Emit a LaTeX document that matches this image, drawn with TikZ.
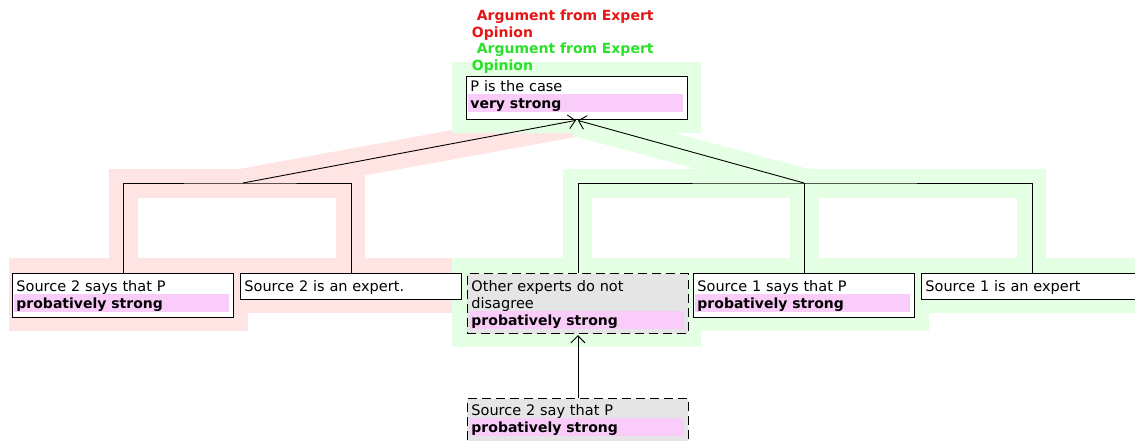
\documentclass[tikz,border=0pt]{standalone}
\usepackage{fontspec}
\setmainfont{DejaVu Sans}
\usepackage{xcolor}
\usetikzlibrary{arrows.meta, positioning, calc}

\definecolor{argred}{RGB}{230,20,20}
\definecolor{arggreen}{RGB}{40,225,40}
\definecolor{hlred}{RGB}{255,228,228}
\definecolor{hlgreen}{RGB}{228,255,228}
\definecolor{strengthpink}{RGB}{250,204,250}
\definecolor{assumegray}{RGB}{229,229,229}

\newcommand{\claimfont}{\fontsize{14.5}{17}\selectfont\lineskiplimit=-20pt}
\newcommand{\schemefont}{\fontsize{14}{17}\selectfont\bfseries\lineskiplimit=-20pt}
\newcommand{\strengthbar}[1]{\hspace*{-2.3pt}{\setlength{\fboxsep}{0pt}%
  \colorbox{strengthpink}{\makebox[\dimexpr\linewidth+1.5pt\relax][l]{%
  \rule[-3.4pt]{0pt}{17.6pt}\hspace{2.3pt}\fontsize{14}{17}\selectfont\bfseries #1}}}}

\begin{document}
\begin{tikzpicture}[x=1pt, y=-1pt,
  claim/.style={draw, line width=0.9pt, fill=white, anchor=north west,
    inner xsep=4pt, inner ysep=0pt, text width=213pt, align=left,
    font=\claimfont, text height=18pt},
  assumption/.style={claim, fill=assumegray, dash pattern=on 9pt off 5pt},
  scheme/.style={anchor=north west, inner sep=0pt, text width=210pt, align=left,
    font=\schemefont, text height=10pt},
  link/.style={line width=0.9pt},
  support/.style={link, -{Straight Barb[length=7pt,width=14pt]}, shorten >=1pt},
  hlband/.style={line width=29pt, line join=miter}]
\useasboundingbox (0,0) rectangle (1135,441);
% Red argument: highlight
\fill[hlred] (9,257.5) rectangle (247.5,330.5);
\fill[hlred] (247.5,257.5) rectangle (475,312.5);
\draw[hlred, hlband] (123,258) -- (123,183) -- (350.5,183) -- (350.5,258);
\draw[hlred, hlband] (243,183) -- (577,122);
% Green argument: highlight
\fill[hlgreen] (452,62) rectangle (701,133);
\draw[hlgreen, hlband] (577,122) -- (805,183);
\draw[hlgreen, hlband] (577,258) -- (577,183) -- (1031.5,183) -- (1031.5,258);
\draw[hlgreen, hlband] (804,183) -- (804,258);
\fill[hlgreen] (452,257.5) rectangle (701,347);
\fill[hlgreen] (678,257.5) rectangle (929,331);
\fill[hlgreen] (906,257.5) rectangle (1135,313);
% Scheme names
\node[scheme, text=argred] (redscheme) at (471.7,10) {\hspace*{5pt}Argument from Expert\\Opinion};
\node[scheme, text=arggreen] (greenscheme) at (471.7,43.3) {\hspace*{5pt}Argument from Expert\\Opinion};
% Claims
\node[claim, text height=14.7pt, text depth=28.6pt] (conclusion) at (466,76)
  {P is the case\\\strengthbar{very strong}};
\node[claim, text height=18.5pt, text depth=25.5pt] (s2says) at (12,272.5)
  {Source 2 says that P\\\strengthbar{probatively strong}};
\node[claim, text height=18.5pt, text depth=7.5pt] (s2expert) at (240,272.5)
  {Source 2 is an expert.};
\node[assumption, text height=17.4pt, text depth=42.6pt] (noconflict) at (467,273.3)
  {Other experts do not\\disagree\\\strengthbar{probatively strong}};
\node[claim, text depth=26pt] (s1says) at (693,273)
  {Source 1 says that P\\\strengthbar{probatively strong}};
\node[claim, text depth=8pt] (s1expert) at (921,273)
  {Source 1 is an expert};
\node[assumption, text height=16.7pt, text depth=27pt] (s2say) at (467,398.3)
  {Source 2 say that P\\\strengthbar{probatively strong}};
% Links
\coordinate (leftjoin) at (243,183);
\draw[link] (s2says.north) |- (leftjoin) -| (s2expert.north);
\draw[support] (leftjoin) -- (conclusion.south);
\coordinate (rightjoin) at (s1says.north |- leftjoin);
\draw[link] (noconflict.north) |- (rightjoin) -| (s1expert.north);
\draw[link] (s1says.north) -- (rightjoin);
\draw[support] (rightjoin) -- (conclusion.south);
\draw[support] (s2say.north) -- (noconflict.south);
\end{tikzpicture}
\end{document}
